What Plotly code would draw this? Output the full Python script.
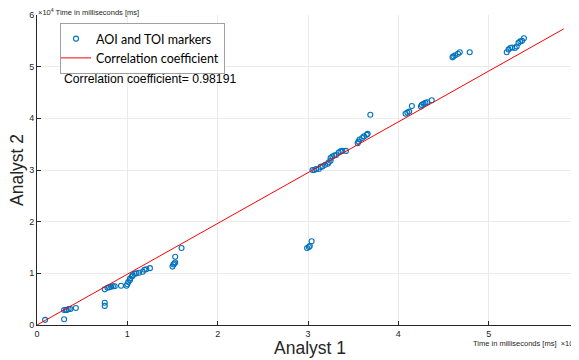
import plotly.graph_objects as go

# Data (milliseconds)
analyst1 = [900, 3000, 3000, 3200, 3300, 3500, 3700, 4300, 7500, 7500,
            7500, 7800, 8000, 8200, 8400, 8600, 9300, 9900, 10000, 10100,
            10300, 10300, 10500, 10600, 10800, 11000, 11300, 11700, 11900, 12100,
            12500, 15000, 15100, 15200, 15300, 15300, 16000,
            29900, 30100, 30200, 30400,
            30500, 30700, 30900, 31200, 31400, 31600, 31900, 32200, 32300, 32500,
            32500, 32700, 32900, 33100, 33400, 33600, 33800, 34200,
            35500, 35600, 35700, 36000, 36200, 36500, 36600, 36900,
            40800, 41000, 41200, 41500, 42500, 42600, 42800, 43000, 43200, 43700,
            46000, 46100, 46300, 46600, 46800, 47900,
            52000, 52200, 52400, 52600, 52900, 53100, 53300, 53500, 53700, 53900]
analyst2 = [1000, 1100, 2900, 2900, 2900, 3100, 3100, 3300, 4300, 3700,
            6900, 7200, 7300, 7400, 7500, 7500, 7600, 7600, 7900, 8300,
            8700, 9000, 9400, 9600, 9900, 10000, 10100, 10300, 10700, 10800,
            11000, 11300, 11700, 11900, 12100, 13200, 14900,
            14900, 15100, 15300, 16200,
            30000, 30000, 30200, 30200, 30600, 30700, 31000, 31200, 31500, 31800,
            32300, 32600, 32800, 32900, 33400, 33600, 33700, 33700,
            35200, 35500, 35900, 36200, 36500, 36800, 37000, 40700,
            40900, 41100, 41300, 42400, 42300, 42600, 42800, 43000, 43100, 43500,
            51800, 52000, 52200, 52500, 52800, 52800,
            52800, 53300, 53600, 53700, 53600, 53900, 54600, 54900, 55000, 55500]

line_x = [0, 58300]
line_y = [0, 57300]

tick_values = [0, 10000, 20000, 30000, 40000, 50000, 60000]
tick_labels = ["0", "1", "2", "3", "4", "5", "6"]

corr_text = "Correlation coefficient= 0.98191"
exp_label_y = "×10<sup>4</sup> Time in milliseconds [ms]"
exp_label_x = "Time in milliseconds [ms]  ×10<sup>4</sup>"

# Page offset (browser body margin) compensation
OFF = 8
W, H = 579 - OFF, 360 - OFF
L, T, B, R = 37 - OFF, 15 - OFF, H - (325 - OFF), 0
plot_w = W - L - R
plot_h = H - T - B


def px(xp):
    return (xp - OFF - L) / plot_w


def py(yp):
    return (H - B - (yp - OFF)) / plot_h


fig = go.Figure()
fig.add_trace(go.Scatter(
    x=analyst1, y=analyst2, mode="markers", name="AOI and TOI markers",
    marker=dict(symbol="circle-open", size=5, color="#0072BD", line=dict(width=1.1)),
))
fig.add_trace(go.Scatter(
    x=line_x, y=line_y, mode="lines", name="Correlation coefficient",
    line=dict(color="#FF0000", width=1),
))

axis_common = dict(
    tickvals=tick_values, ticktext=tick_labels,
    showgrid=True, gridcolor="#EBEBEB", gridwidth=1,
    zeroline=False, showline=True, linecolor="#262626", linewidth=1,
    ticks="inside", ticklen=4, tickcolor="#262626",
    tickfont=dict(family="Liberation Sans, Arial", size=9, color="#262626"),
    range=[0, 60000],
)

fig.update_layout(
    width=W, height=H,
    margin=dict(l=L, r=R, t=T, b=B),
    paper_bgcolor="white", plot_bgcolor="white",
    xaxis=dict(**axis_common),
    yaxis=dict(**axis_common),
    showlegend=True,
    legend=dict(
        x=px(60), y=py(23), xanchor="left", yanchor="top",
        bgcolor="white", bordercolor="#A0A0A0", borderwidth=1,
        font=dict(family="Lato", size=12.5, color="#000000"),
        itemwidth=30, tracegroupgap=0, indentation=-5,
    ),
)

fig.add_annotation(text=corr_text, x=px(62), y=py(79), xref="paper", yref="paper",
                   xanchor="left", yanchor="middle", showarrow=False,
                   font=dict(family="Liberation Sans, Arial", size=12.2, color="#000000"))
fig.add_annotation(text=exp_label_y, x=px(36), y=py(12), xref="paper", yref="paper",
                   xanchor="left", yanchor="middle", showarrow=False,
                   font=dict(family="Liberation Sans, Arial", size=7.5, color="#262626"))
fig.add_annotation(text="Analyst 1", x=px(310), y=py(348), xref="paper", yref="paper",
                   xanchor="center", yanchor="middle", showarrow=False,
                   font=dict(family="Liberation Sans, Arial", size=17.5, color="#262626"))
fig.add_annotation(text=exp_label_x, x=px(578), y=py(343), xref="paper", yref="paper",
                   xanchor="right", yanchor="middle", showarrow=False,
                   font=dict(family="Liberation Sans, Arial", size=7.5, color="#262626"))
fig.add_annotation(text="Analyst 2", x=px(17), y=py(170), xref="paper", yref="paper",
                   xanchor="center", yanchor="middle", textangle=-90, showarrow=False,
                   font=dict(family="Liberation Sans, Arial", size=17.5, color="#262626"))

fig.write_html("out.html")
